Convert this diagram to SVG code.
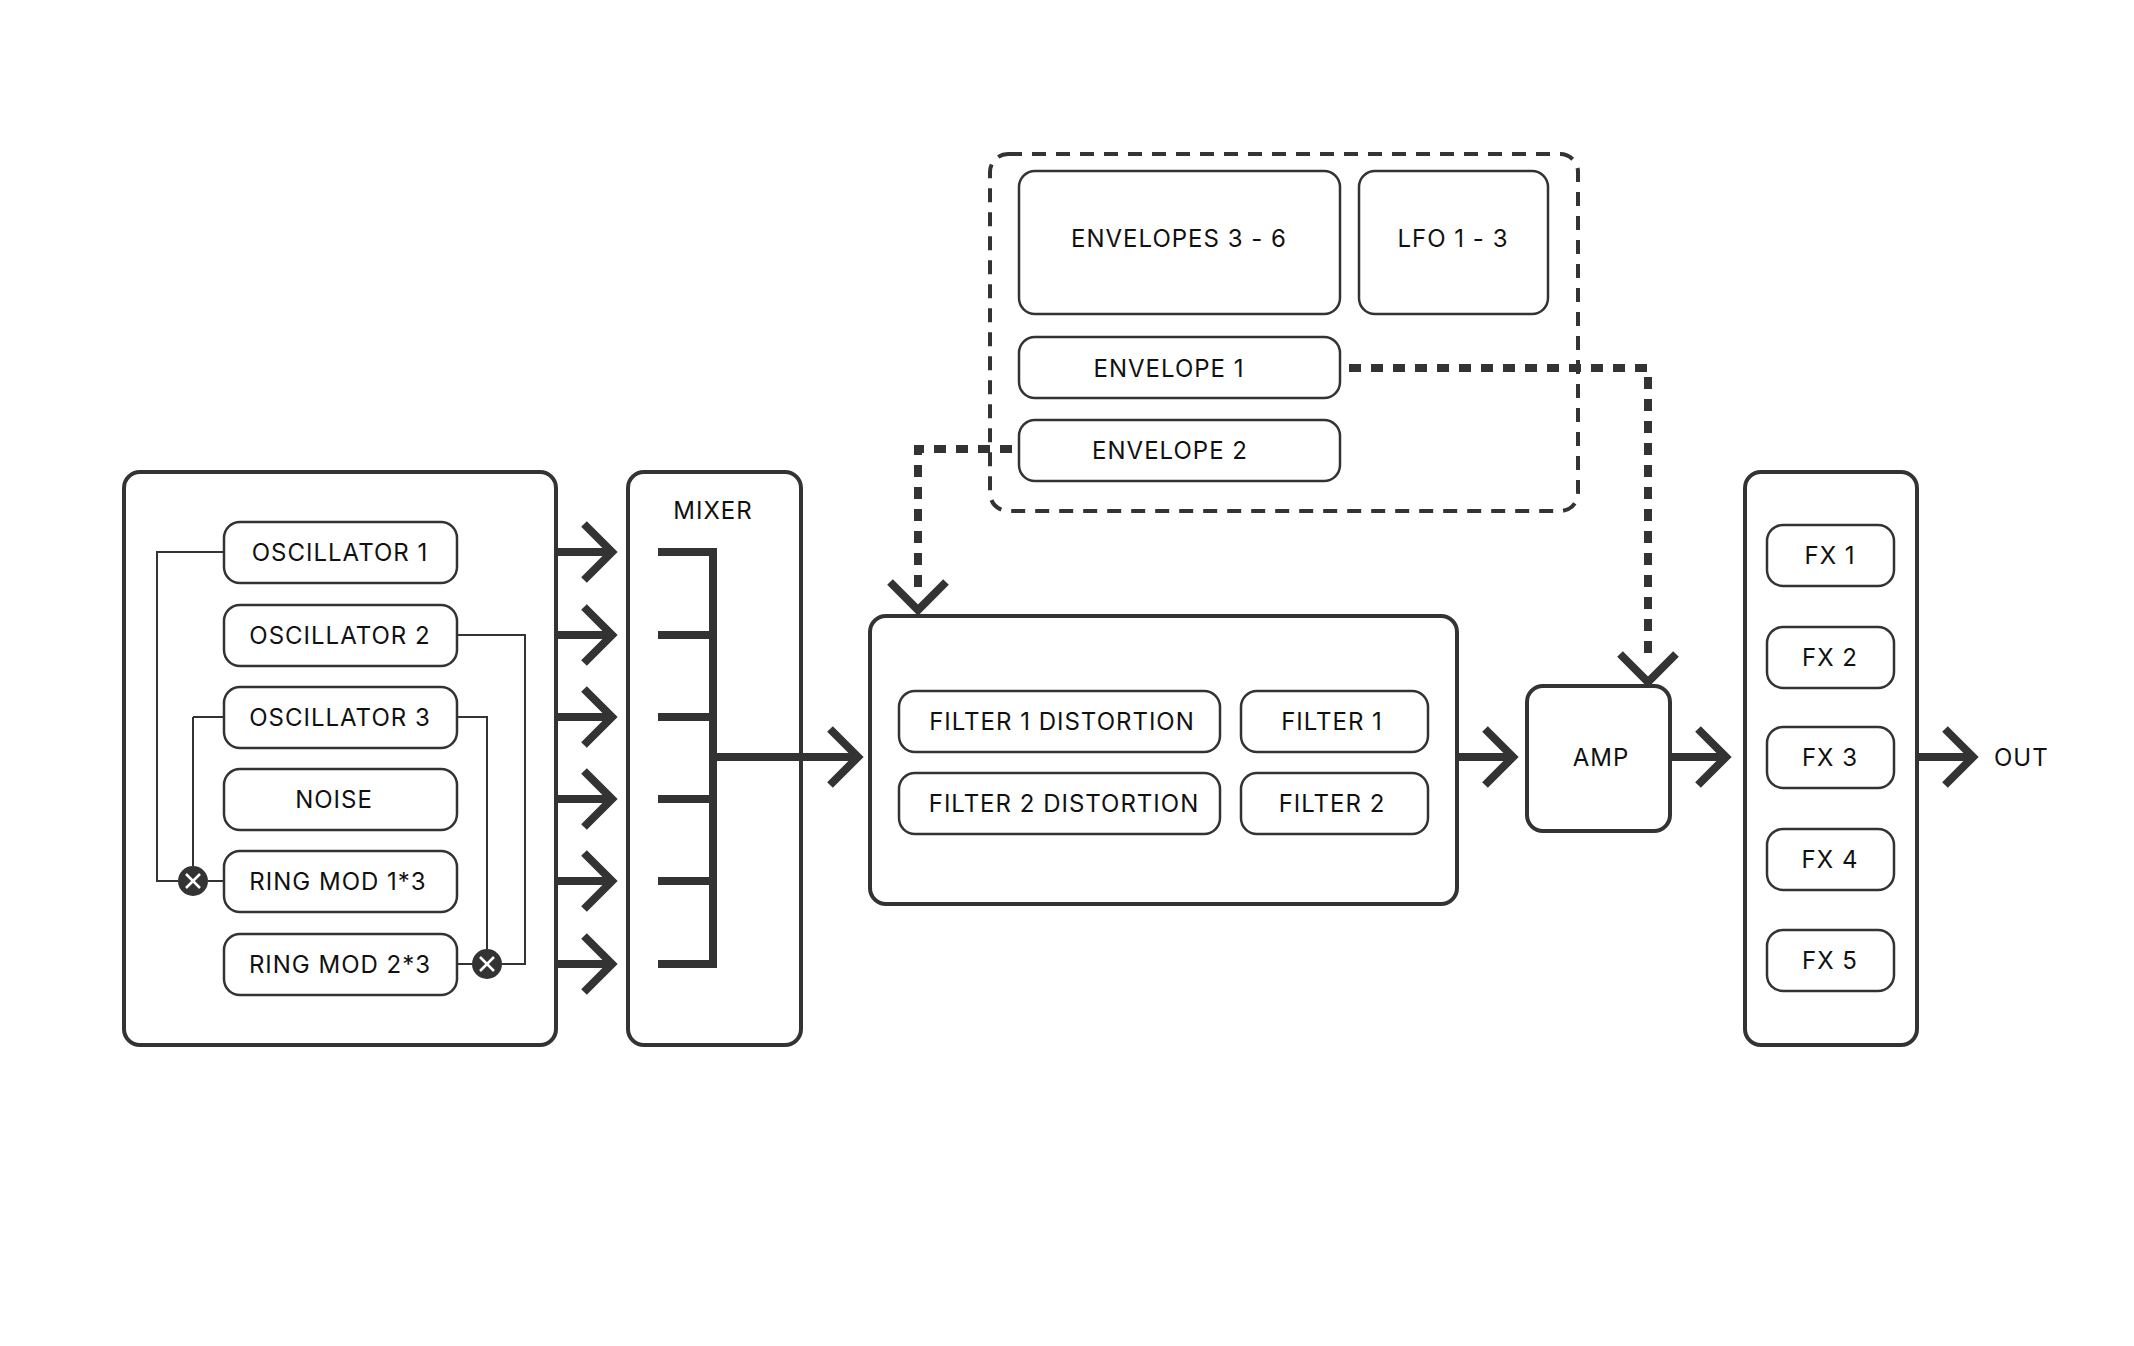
<svg xmlns="http://www.w3.org/2000/svg" width="2134" height="1346" viewBox="0 0 2134 1346">
<defs><style>
text{font-family:Inter,"Liberation Sans",sans-serif;font-size:24px;fill:#111;text-anchor:middle;dominant-baseline:central;letter-spacing:1px}
.big{fill:#fff;stroke:#333;stroke-width:4}
.n{fill:#fff;stroke:#333;stroke-width:2.5}
.thin{fill:none;stroke:#333;stroke-width:2}
.th{fill:none;stroke:#333;stroke-width:8}
.dash{fill:none;stroke:#333;stroke-width:8;stroke-dasharray:12 10}
.grp{fill:none;stroke:#333;stroke-width:4;stroke-dasharray:14 10}
</style></defs>
<rect width="2134" height="1346" fill="#fff"/>
<g id="group-mod"><rect class="grp" x="990" y="154" width="588" height="357" rx="18"/></g>
<g id="source"><rect class="big" x="124" y="472" width="432" height="573" rx="16"/></g>
<g id="osc1"><rect class="n" x="224" y="522" width="233" height="61" rx="16"/><text x="340" y="552">OSCILLATOR 1</text></g>
<g id="osc2"><rect class="n" x="224" y="605" width="233" height="61" rx="16"/><text x="340" y="635">OSCILLATOR 2</text></g>
<g id="osc3"><rect class="n" x="224" y="687" width="233" height="61" rx="16"/><text x="340" y="717">OSCILLATOR 3</text></g>
<g id="noise"><rect class="n" x="224" y="769" width="233" height="61" rx="16"/><text x="334" y="799">NOISE</text></g>
<g id="ring1"><rect class="n" x="224" y="851" width="233" height="61" rx="16"/><text x="338" y="881">RING MOD 1*3</text></g>
<g id="ring2"><rect class="n" x="224" y="934" width="233" height="61" rx="16"/><text x="340" y="964">RING MOD 2*3</text></g>
<g id="mixer"><rect class="big" x="628" y="472" width="173" height="573" rx="16"/><text x="713" y="510">MIXER</text></g>
<g id="filters"><rect class="big" x="870" y="616" width="587" height="288" rx="16"/></g>
<g id="f1d"><rect class="n" x="899" y="691" width="321" height="61" rx="16"/><text x="1062" y="721">FILTER 1 DISTORTION</text></g>
<g id="f2d"><rect class="n" x="899" y="773" width="321" height="61" rx="16"/><text x="1064" y="803">FILTER 2 DISTORTION</text></g>
<g id="f1"><rect class="n" x="1241" y="691" width="187" height="61" rx="16"/><text x="1332" y="721">FILTER 1</text></g>
<g id="f2"><rect class="n" x="1241" y="773" width="187" height="61" rx="16"/><text x="1332" y="803">FILTER 2</text></g>
<g id="amp"><rect class="big" x="1527" y="686" width="143" height="145" rx="16"/><text x="1601" y="757">AMP</text></g>
<g id="fx"><rect class="big" x="1745" y="472" width="172" height="573" rx="16"/></g>
<g id="fx1"><rect class="n" x="1767" y="525" width="127" height="61" rx="16"/><text x="1830" y="555">FX 1</text></g>
<g id="fx2"><rect class="n" x="1767" y="627" width="127" height="61" rx="16"/><text x="1830" y="657">FX 2</text></g>
<g id="fx3"><rect class="n" x="1767" y="727" width="127" height="61" rx="16"/><text x="1830" y="757">FX 3</text></g>
<g id="fx4"><rect class="n" x="1767" y="829" width="127" height="61" rx="16"/><text x="1830" y="859">FX 4</text></g>
<g id="fx5"><rect class="n" x="1767" y="930" width="127" height="61" rx="16"/><text x="1830" y="960">FX 5</text></g>
<g id="env36"><rect class="n" x="1019" y="171" width="321" height="143" rx="16"/><text x="1179" y="238">ENVELOPES 3 - 6</text></g>
<g id="lfo"><rect class="n" x="1359" y="171" width="189" height="143" rx="16"/><text x="1453" y="238">LFO 1 - 3</text></g>
<g id="env1"><rect class="n" x="1019" y="337" width="321" height="61" rx="16"/><text x="1169" y="368">ENVELOPE 1</text></g>
<g id="env2"><rect class="n" x="1019" y="420" width="321" height="61" rx="16"/><text x="1170" y="450">ENVELOPE 2</text></g>
<g id="out"><text x="1994" y="757" style="text-anchor:start">OUT</text></g>
<g id="connectors">
<path class="thin" d="M224 552H157V881H178M193 717H224M193 717V866M208 881H224"/>
<path class="thin" d="M457 635H525V964H502M457 717H487V949M472 964H457"/>
<g fill="#333" stroke="#fff" stroke-width="2.5">
<circle cx="193" cy="881" r="15" stroke="none"/><path d="M186 874l14 14M200 874l-14 14"/>
<circle cx="487" cy="964" r="15" stroke="none"/><path d="M480 957l14 14M494 957l-14 14"/>
</g>
<path class="th" d="M556 552H612M556 635H612M556 717H612M556 799H612M556 881H612M556 964H612"/>
<path class="th" d="M584 524l28 28-28 28M584 607l28 28-28 28M584 689l28 28-28 28M584 771l28 28-28 28M584 853l28 28-28 28M584 936l28 28-28 28"/>
<path class="th" d="M658 552H713V964H658M658 635H713M658 717H713M658 799H713M658 881H713M713 757H858M830 729l28 28-28 28"/>
<path class="th" d="M1457 757H1513M1485 729l28 28-28 28M1670 757H1726M1698 729l28 28-28 28M1917 757H1973M1945 729l28 28-28 28"/>
<path class="dash" d="M1349 368H1648V660"/>
<path class="th" d="M1620 654l28 28 28-28"/>
<path class="dash" d="M1012 449H918V588"/>
<path class="th" d="M890 582l28 28 28-28"/>
</g>
</svg>
